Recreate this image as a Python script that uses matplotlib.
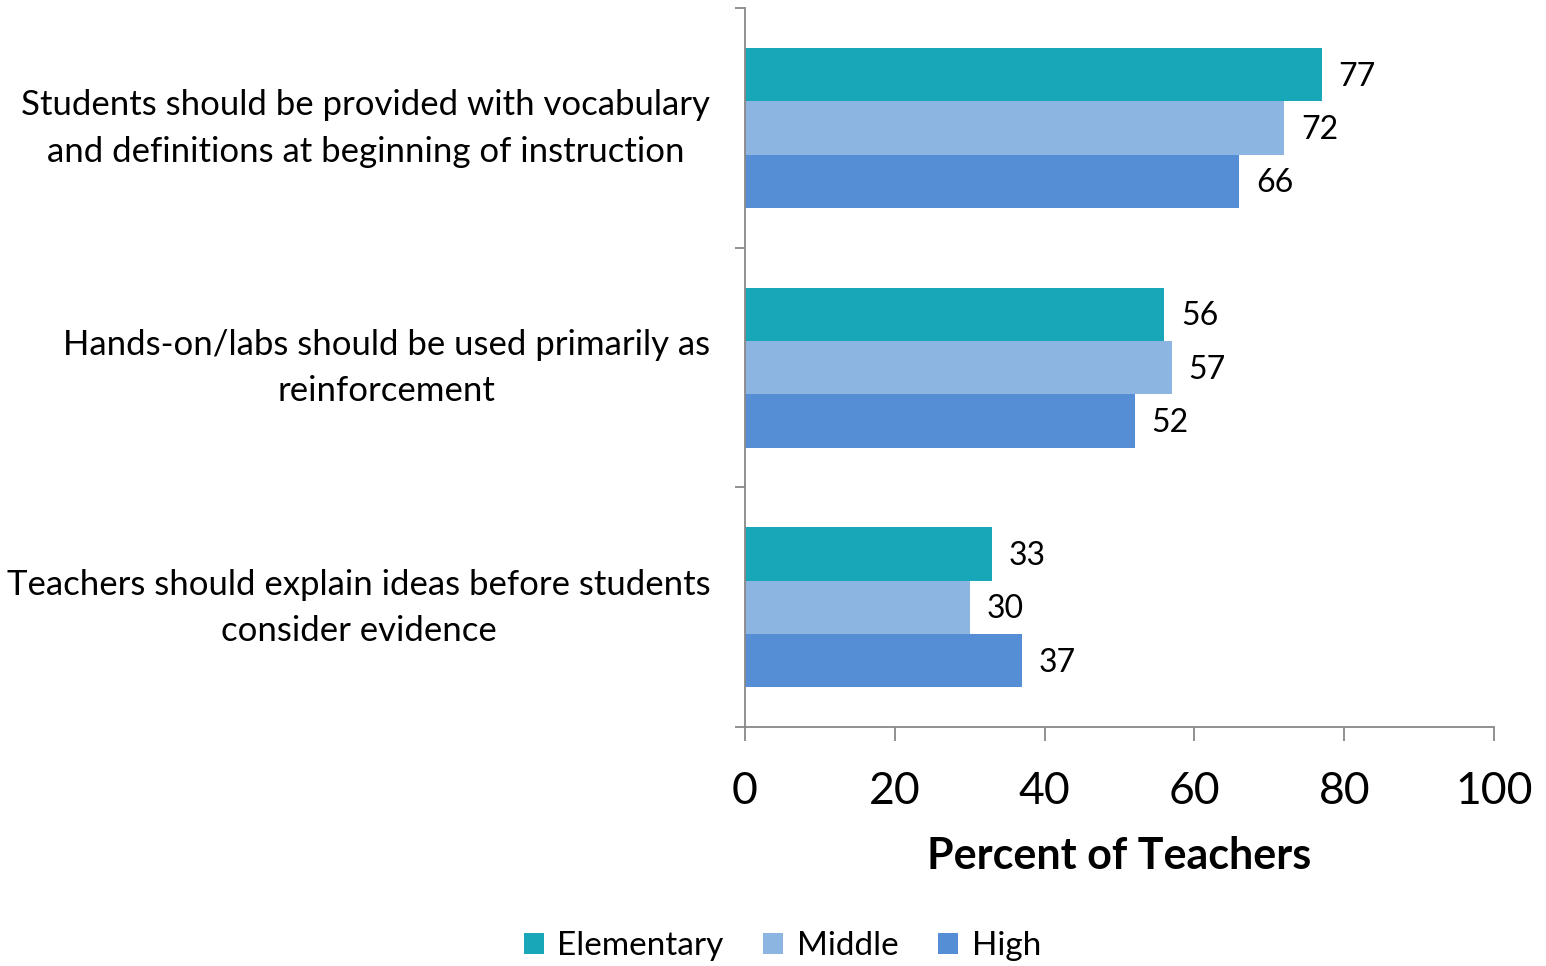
import matplotlib.pyplot as plt
from matplotlib.ticker import FixedLocator

# data
categories = ['Students should be provided with vocabulary\nand definitions at beginning of instruction',
              'Hands-on/labs should be used primarily as\nreinforcement',
              'Teachers should explain ideas before students\nconsider evidence']
series = ['Elementary', 'Middle', 'High']
elementary = [77, 56, 33]
middle = [72, 57, 30]
high = [66, 52, 37]
colors = ['#17A7B9', '#8DB5E2', '#558ED5']

plt.rcParams['font.family'] = ['Lato', 'DejaVu Sans']

fig = plt.figure(figsize=(15.46, 9.66), dpi=100)
ax = fig.add_axes([0.4819, 0.2474, 0.4845, 0.7443])

h = 0.2225
pos = [2 - i for i in range(len(categories))]
handles = []
for k, (name, vals, col) in enumerate(zip(series, [elementary, middle, high], colors)):
    off = h * (1 - k)
    ys = [p + off for p in pos]
    b = ax.barh(ys, vals, height=h, color=col, label=name)
    handles.append(b)
    for y, v in zip(ys, vals):
        ax.annotate(str(v), xy=(v, y), xytext=(12, -1.5), textcoords='offset points',
                    ha='left', va='center', fontsize=23, color='black')

ax.set_xlim(0, 100)
ax.set_ylim(-0.5, 2.5)
ax.set_xticks([0, 20, 40, 60, 80, 100])
ax.set_yticks(pos)
ax.set_yticklabels([])
# category labels, centred on each group
for p, cat in zip(pos, categories):
    ax.annotate(cat, xy=(0, p), xycoords=ax.get_yaxis_transform(),
                xytext=(-25, -0.5), textcoords='offset points',
                ha='right', va='center', multialignment='center',
                linespacing=1.55, fontsize=25)
ax.yaxis.set_minor_locator(FixedLocator([-0.5, 0.5, 1.5, 2.5]))
ax.tick_params(axis='y', which='major', length=0)
ax.tick_params(axis='y', which='minor', length=7, width=1.3, color='#888888', direction='out')
ax.tick_params(axis='x', length=10, width=1.3, color='#888888', direction='out',
               labelsize=32, pad=22)

for s in ['top', 'right']:
    ax.spines[s].set_visible(False)
for s in ['left', 'bottom']:
    ax.spines[s].set_color('#888888')
    ax.spines[s].set_linewidth(1.3)

ax.set_xlabel('Percent of Teachers', fontsize=31, fontweight='bold', labelpad=17)

fig.legend(handles=handles, labels=series, loc='center', bbox_to_anchor=(0.506, 0.0207),
           ncol=3, frameon=False, fontsize=24, handlelength=0.6, handleheight=0.6,
           handletextpad=0.4, columnspacing=1.2)

fig.savefig('out.png', dpi=100)
